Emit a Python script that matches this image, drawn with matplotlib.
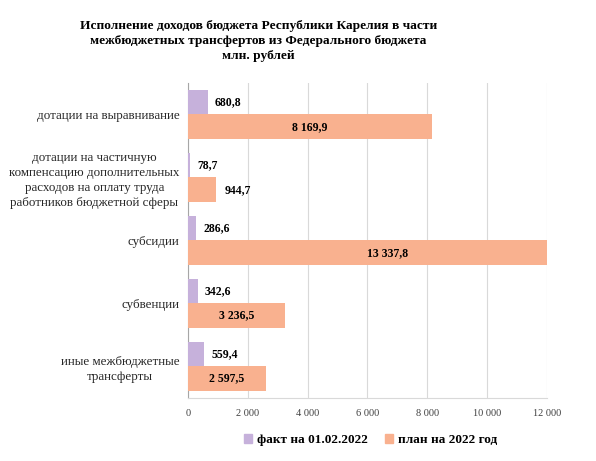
import numpy as np
import matplotlib
matplotlib.use("Agg")
import matplotlib.pyplot as plt
import matplotlib.ticker as mticker
from matplotlib.patches import Patch

plt.rcParams["font.family"] = ["Liberation Serif", "DejaVu Serif"]

categories = [
    "дотации на выравнивание",
    "дотации на частичную\nкомпенсацию дополнительных\nрасходов на оплату труда\nработников бюджетной сферы",
    "субсидии",
    "субвенции",
    "иные межбюджетные\nтрансферты",
]
fact = [680.8, 78.7, 286.6, 342.6, 559.4]
plan = [8169.9, 944.7, 13337.8, 3236.5, 2597.5]
series_names = ["факт на 01.02.2022", "план на 2022 год"]
x_ticks = [0, 2000, 4000, 6000, 8000, 10000, 12000]

FACT_COLOR = "#c6b1db"
PLAN_COLOR = "#f9b18f"
XMAX = 12000


def fmt_ru(v, decimals=1):
    s = f"{v:,.{decimals}f}"
    return s.replace(",", " ").replace(".", ",")


fig = plt.figure(figsize=(5.96, 4.61), dpi=100)
ax = fig.add_axes([0.315, 0.137, 0.603, 0.683])

y = np.arange(len(categories))
h = 0.389
ax.barh(y - h / 2, fact, height=h, color=FACT_COLOR, zorder=3)
ax.barh(y + h / 2, plan, height=h, color=PLAN_COLOR, zorder=3)

ax.set_xlim(0, XMAX)
ax.set_ylim(len(categories) - 0.5, -0.5)

# labels: fact always outside, plan centred unless the bar is too short
for yi, v in zip(y, fact):
    ax.annotate(fmt_ru(v), (v, yi - h / 2), xytext=(5, 0), textcoords="offset points",
                ha="left", va="center", fontsize=8.5, weight="bold", color="black", zorder=5)
for yi, v in zip(y, plan):
    if v < 2000:
        ax.annotate(fmt_ru(v), (v, yi + h / 2), xytext=(6, 0), textcoords="offset points",
                    ha="left", va="center", fontsize=8.5, weight="bold", color="black", zorder=5)
    else:
        ax.text(v / 2, yi + h / 2, fmt_ru(v), ha="center", va="center",
                fontsize=8.5, weight="bold", color="black", zorder=5)

ax.set_yticks(y)
ax.set_yticklabels(categories, fontsize=9.4, color="#262626", multialignment="center",
                   linespacing=1.35)
ax.set_xticks(x_ticks)
ax.xaxis.set_major_formatter(mticker.FuncFormatter(lambda v, _p: fmt_ru(v, 0)))
ax.tick_params(axis="x", labelsize=7.5, colors="#404040", length=0, pad=8)
ax.tick_params(axis="y", length=0, pad=6)

ax.grid(axis="x", color="#d9d9d9", linewidth=0.8, zorder=0)
for side in ("top", "right"):
    ax.spines[side].set_visible(False)
ax.spines["left"].set_color("#a6a6a6")
ax.spines["bottom"].set_color("#d9d9d9")

fig.text(0.434, 0.957,
         "Исполнение доходов бюджета Республики Карелия в части\n"
         "межбюджетных трансфертов из Федерального бюджета\n"
         "млн. рублей",
         ha="center", va="top", fontsize=9.6, weight="bold", linespacing=1.35)

handles = [Patch(color=FACT_COLOR), Patch(color=PLAN_COLOR)]
fig.legend(handles, series_names, loc="center", bbox_to_anchor=(0.622, 0.045),
           ncol=2, frameon=False, prop=dict(size=9.5, weight="bold"),
           handlelength=0.6, handleheight=0.6, handletextpad=0.4, columnspacing=1.3)

fig.savefig("out.png", dpi=100)
